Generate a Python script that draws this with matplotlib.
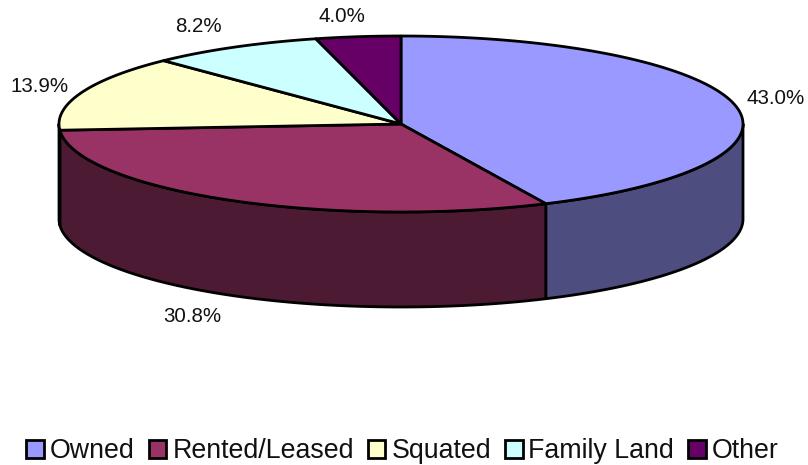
import matplotlib
import numpy as np

matplotlib.use('agg')

import matplotlib.pyplot as plt
from matplotlib.patches import Patch

plt.rcParams['font.family'] = ['Liberation Sans', 'DejaVu Sans']

labels = ['Owned', 'Rented/Leased', 'Squated', 'Family Land', 'Other']
values = [43.0, 30.8, 13.9, 8.2, 4.0]
value_labels = ['43.0%', '30.8%', '13.9%', '8.2%', '4.0%']
colors = ['#9999FF', '#993366', '#FFFFCC', '#CCFFFF', '#660066']
side_colors = ['#4D4D80', '#4D1A33', '#80806A', '#668080', '#330033']
# where each percent label sits, in picture pixels
label_pos = [(776, 98), (192, 316), (40, 87), (198, 27), (342, 17)]

# pie geometry, in picture pixels
cx, cy = 401, 124
rx, ry = 342, 88
depth = 95
edge = dict(edgecolor='black', linewidth=2.0, joinstyle='round')


def rim(theta_deg):
    # angles run clockwise from the top of the pie
    t = np.radians(theta_deg)
    return cx + rx * np.sin(t), cy - ry * np.cos(t)


fig = plt.figure(figsize=(8.08, 4.65), dpi=100)
ax = fig.add_axes([0, 0, 1, 1])
ax.set_xlim(0, 808)
ax.set_ylim(465, 0)
ax.axis('off')

edges = np.concatenate(([0], np.cumsum(values))) / sum(values) * 360

# front wall first, only the part between 90 and 270 degrees shows
for i in range(len(values)):
    a, b = max(edges[i], 90), min(edges[i + 1], 270)
    if a >= b:
        continue
    x, y = rim(np.linspace(a, b, 150))
    ax.fill(np.concatenate((x, x[::-1])),
            np.concatenate((y, y[::-1] + depth)),
            facecolor=side_colors[i], zorder=1, **edge)

# top face
for i in range(len(values)):
    x, y = rim(np.linspace(edges[i], edges[i + 1], 150))
    ax.fill(np.concatenate(([cx], x)), np.concatenate(([cy], y)),
            facecolor=colors[i], zorder=2, **edge)

for text, (px, py) in zip(value_labels, label_pos):
    ax.text(px, py, text, ha='center', va='center', fontsize=14.8,
            color='#111111')

handles = [Patch(facecolor=c, edgecolor='black', linewidth=2.0) for c in colors]
fig.legend(handles, labels, loc='center', ncol=5, frameon=False,
           bbox_to_anchor=(402.5 / 808, 1 - 451 / 465), fontsize=19.3,
           handlelength=0.66, handleheight=0.66, handletextpad=0.22,
           columnspacing=0.52, labelcolor='#111111')

fig.savefig('out.png', dpi=100)
plt.close(fig)
